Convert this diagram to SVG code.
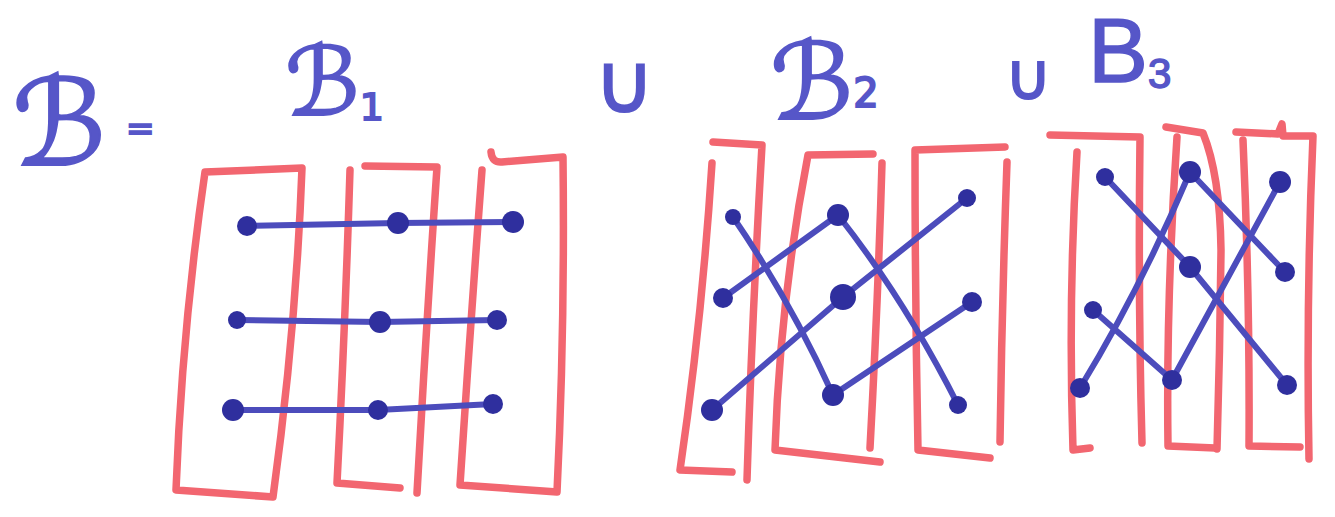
<svg xmlns="http://www.w3.org/2000/svg" width="1335" height="517" viewBox="0 0 1335 517">
<style>
.box{fill:none;stroke:#f26670;stroke-width:7.5;stroke-linecap:round;stroke-linejoin:round}
.edge{fill:none;stroke:#4c4cbc;stroke-width:6;stroke-linecap:round}
.dot{fill:#2f2f9e}
.lbl{font-family:"DejaVu Sans",sans-serif;fill:#5656c8;stroke:#5656c8;stroke-width:2}
.lbl2{font-family:"Liberation Sans",sans-serif;fill:#5656c8;stroke:#5656c8;stroke-width:1.5}
</style>
<rect width="1335" height="517" fill="#ffffff"/>
<g id="labels">
<text class="lbl" x="12" y="165" font-size="120">ℬ</text>
<text class="lbl" x="126" y="140" font-size="34">=</text>
<text class="lbl" x="285" y="115" font-size="95">ℬ<tspan font-size="38" dy="5">1</tspan></text>
<text class="lbl" x="594" y="112" font-size="82">∪</text>
<text class="lbl" x="770" y="119" font-size="106">ℬ<tspan font-size="40" dy="-12">2</tspan></text>
<text class="lbl" x="1005" y="99" font-size="64">∪</text>
<text class="lbl2" x="1088" y="82" font-size="90">B<tspan font-size="42" dy="6">3</tspan></text>
</g>
<g id="strips">
<g id="B1-strips">
<path class="box" d="M205,172 L302,168 Q296,330 273,497 L176,490 Q182,330 205,172 Z"/>
<path class="box" d="M350,170 Q345,330 337,483 L400,488"/>
<path class="box" d="M365,166 L437,167 Q426,330 417,493"/>
<path class="box" d="M491,152 Q492,163 502,162 L563,157 Q565,330 557,492 L460,485 Q470,330 482,170"/>
</g>
<g id="B2-strips">
<path class="box" d="M713,142 L762,145 Q752,320 747,480"/>
<path class="box" d="M712,163 Q702,320 680,470 L732,472"/>
<path class="box" d="M873,154 L808,155 Q780,300 775,450 L880,462"/>
<path class="box" d="M882,163 Q878,300 870,448"/>
<path class="box" d="M1005,147 L915,150 Q915,300 918,450 L990,458"/>
<path class="box" d="M1007,162 Q1002,300 1000,442"/>
</g>
<g id="B3-strips">
<path class="box" d="M1050,135 L1140,137 Q1138,300 1142,443"/>
<path class="box" d="M1077,152 Q1068,300 1073,450 L1090,448"/>
<path class="box" d="M1166,127 L1203,133 Q1220,175 1221,250 Q1220,350 1217,449"/>
<path class="box" d="M1177,137 Q1166,300 1168,446 L1215,448"/>
<path class="box" d="M1236,132 L1278,134 L1282,124 L1283,136 L1313,136 Q1306,300 1309,459"/>
<path class="box" d="M1243,140 Q1250,300 1249,446 L1300,447"/>
</g>
</g>
<g id="connectors">
<path class="edge" d="M247,226 L398,223 L513,222"/>
<path class="edge" d="M237,320 L380,322 L497,320"/>
<path class="edge" d="M233,410 L378,410 L493,404"/>
<path class="edge" d="M733,217 Q790,300 833,395"/>
<path class="edge" d="M838,215 Q905,300 958,405"/>
<path class="edge" d="M723,298 L838,215"/>
<path class="edge" d="M712,410 L843,297 L967,198"/>
<path class="edge" d="M833,395 L972,302"/>
<path class="edge" d="M1105,177 L1190,267 L1287,385"/>
<path class="edge" d="M1190,172 L1285,272"/>
<path class="edge" d="M1190,172 Q1140,290 1080,388"/>
<path class="edge" d="M1280,182 L1172,380"/>
<path class="edge" d="M1093,310 L1172,380"/>
</g>
<g id="nodes">
<g id="n1"><circle class="dot" cx="247" cy="226" r="10"/></g>
<g id="n2"><circle class="dot" cx="398" cy="223" r="11"/></g>
<g id="n3"><circle class="dot" cx="513" cy="222" r="11"/></g>
<g id="n4"><circle class="dot" cx="237" cy="320" r="9"/></g>
<g id="n5"><circle class="dot" cx="380" cy="322" r="11"/></g>
<g id="n6"><circle class="dot" cx="497" cy="320" r="10"/></g>
<g id="n7"><circle class="dot" cx="233" cy="410" r="11"/></g>
<g id="n8"><circle class="dot" cx="378" cy="410" r="10"/></g>
<g id="n9"><circle class="dot" cx="493" cy="404" r="10"/></g>
<g id="m1"><circle class="dot" cx="733" cy="217" r="8"/></g>
<g id="m2"><circle class="dot" cx="838" cy="215" r="11"/></g>
<g id="m3"><circle class="dot" cx="967" cy="198" r="9"/></g>
<g id="m4"><circle class="dot" cx="723" cy="298" r="10"/></g>
<g id="m5"><circle class="dot" cx="843" cy="297" r="13"/></g>
<g id="m6"><circle class="dot" cx="972" cy="302" r="10"/></g>
<g id="m7"><circle class="dot" cx="712" cy="410" r="11"/></g>
<g id="m8"><circle class="dot" cx="833" cy="395" r="11"/></g>
<g id="m9"><circle class="dot" cx="958" cy="405" r="9"/></g>
<g id="k1"><circle class="dot" cx="1105" cy="177" r="9"/></g>
<g id="k2"><circle class="dot" cx="1190" cy="172" r="11"/></g>
<g id="k3"><circle class="dot" cx="1280" cy="182" r="11"/></g>
<g id="k4"><circle class="dot" cx="1190" cy="267" r="11"/></g>
<g id="k5"><circle class="dot" cx="1285" cy="272" r="10"/></g>
<g id="k6"><circle class="dot" cx="1093" cy="310" r="9"/></g>
<g id="k7"><circle class="dot" cx="1080" cy="388" r="10"/></g>
<g id="k8"><circle class="dot" cx="1172" cy="380" r="10"/></g>
<g id="k9"><circle class="dot" cx="1287" cy="385" r="10"/></g>
</g>
</svg>
